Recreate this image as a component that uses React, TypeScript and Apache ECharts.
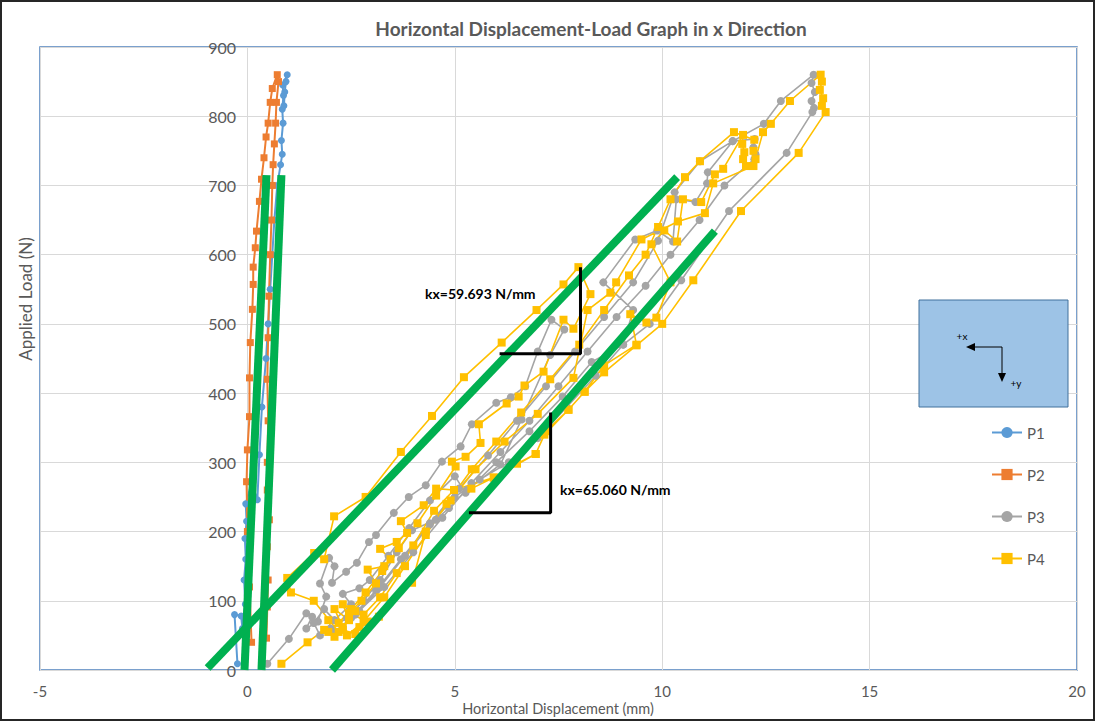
import React, { useEffect, useRef } from "react";
import * as echarts from "echarts";

const xTicks = { min: -5, max: 20, interval: 5 };
const yTicks = { min: 0, max: 900, interval: 100 };

const p1: number[][] = [
  [-0.24, 9], [-0.31, 80], [-0.15, 78], [-0.12, 60], [-0.05, 95], [-0.08, 130], [-0.04, 160],
  [-0.06, 190], [-0.02, 215], [-0.04, 240], [0.1, 270], [0.24, 246], [0.29, 311], [0.35, 380],
  [0.45, 450], [0.5, 500], [0.55, 550], [0.6, 600], [0.65, 650], [0.72, 700], [0.8, 730],
  [0.84, 745], [0.82, 765], [0.86, 790], [0.84, 810], [0.87, 830], [0.85, 845], [0.96, 860],
  [0.93, 850], [0.9, 835], [0.88, 815],
];

const p2: number[][] = [
  [0.1, 40], [0.05, 120], [0.0, 200], [-0.02, 272], [0.0, 318], [0.05, 366], [0.05, 422],
  [0.07, 473], [0.12, 521], [0.14, 557], [0.14, 582], [0.19, 610], [0.22, 634], [0.29, 677],
  [0.34, 709], [0.4, 740], [0.45, 770], [0.5, 790], [0.55, 820], [0.6, 840], [0.72, 860],
  [0.75, 850], [0.7, 820], [0.68, 790], [0.65, 760], [0.62, 730], [0.6, 700], [0.58, 650],
  [0.55, 600], [0.52, 540], [0.5, 480], [0.48, 420], [0.5, 360], [0.48, 300], [0.48, 260],
  [0.53, 217], [0.48, 178], [0.5, 130], [0.48, 91], [0.46, 46],
];

const p3: number[][] = [
  [0.48, 9], [1.0, 45], [1.42, 82], [1.56, 77], [1.42, 60], [1.7, 70], [1.9, 106], [1.75, 125],
  [1.97, 162], [2.1, 150], [2.04, 126], [2.38, 142], [2.64, 155], [2.93, 185], [3.1, 195],
  [3.53, 227], [3.89, 250], [4.3, 267], [4.69, 301], [5.14, 323], [5.41, 355], [6.0, 386],
  [6.35, 394], [6.7, 410], [7.0, 460], [7.33, 506], [7.64, 492],
  [7.3, 455], [6.61, 362], [6.1, 297], [5.29, 260], [4.86, 234], [4.54, 217], [3.97, 202],
  [3.6, 170], [3.2, 130], [2.8, 100], [2.4, 75], [2.0, 60], [1.75, 50],
  [1.6, 68], [1.85, 88], [2.1, 72], [2.5, 95], [2.3, 110], [2.7, 118], [2.95, 130], [3.4, 165],
  [3.9, 205], [4.4, 245], [5.0, 280], [5.26, 256],
  [6.0, 300], [6.8, 345], [7.6, 395], [8.3, 445], [9.06, 470], [9.3, 520], [8.58, 560],
  [9.35, 622], [9.88, 635], [10.26, 619], [10.34, 680], [10.8, 676], [11.08, 703], [11.1, 719],
  [11.7, 764], [12.23, 767], [12.2, 755], [12.25, 745], [12.22, 738],
  [11.5, 700], [10.9, 650], [10.2, 600], [9.6, 555], [8.9, 510], [8.2, 460], [7.5, 410],
  [6.8, 360], [6.1, 315], [5.4, 270], [4.7, 220], [4.0, 170], [3.3, 120], [2.6, 80], [2.1, 55],
  [2.5, 75], [3.1, 115], [3.7, 160], [4.4, 212], [5.1, 262], [5.8, 310], [6.5, 360], [7.2, 410],
  [7.9, 460], [8.6, 510], [9.3, 560], [9.9, 620], [10.3, 690], [10.91, 735], [11.7, 764],
  [12.45, 789], [12.86, 822], [13.65, 860], [13.6, 848], [13.68, 835], [13.6, 822], [13.66, 812],
  [13.62, 806],
  [13.0, 747], [11.61, 663], [10.46, 563], [9.7, 500], [9.06, 470], [8.4, 425], [7.7, 380],
  [7.0, 335], [6.3, 300], [5.6, 275], [5.0, 250], [4.4, 210], [3.8, 165], [3.2, 120], [2.7, 85],
];

const p4: number[][] = [
  [0.82, 9], [1.45, 40], [1.85, 58], [2.1, 48], [1.95, 72], [2.3, 62], [2.1, 88], [2.45, 72],
  [2.3, 95], [2.6, 85], [2.2, 55], [1.6, 100],
  [1.05, 112], [0.96, 133], [1.61, 169], [1.85, 160], [2.09, 222], [2.85, 250], [3.7, 315],
  [4.45, 367], [5.22, 423], [6.13, 473], [6.97, 520], [7.62, 557], [7.98, 582],
  [8.27, 543], [7.86, 493], [7.62, 506], [7.14, 431], [6.68, 411], [6.54, 395], [6.25, 385],
  [5.58, 355], [5.62, 328], [5.26, 308], [4.93, 301], [5.02, 294], [4.55, 252], [4.1, 212],
  [3.65, 176], [3.25, 143], [2.85, 112], [2.5, 88], [2.2, 68], [1.95, 55],
  [2.3, 58], [2.6, 52], [2.9, 70], [2.45, 82], [2.75, 100], [3.1, 125], [2.9, 145], [3.3, 150],
  [3.45, 160], [3.2, 175], [3.6, 185], [3.85, 198], [3.7, 215],
  [4.25, 238], [4.55, 262], [4.98, 260], [5.94, 278], [6.95, 312], [7.16, 340], [7.74, 376],
  [8.13, 402], [8.6, 440], [9.38, 470], [9.23, 514], [9.62, 502], [9.86, 509], [10.2, 560],
  [9.74, 615], [10.05, 635], [10.36, 619], [10.5, 680], [10.94, 676], [11.27, 716], [11.47, 724],
  [11.95, 773], [11.93, 760], [11.98, 748], [11.95, 738], [12.02, 728], [12.2, 728],
  [11.23, 703], [11.03, 660], [10.38, 648], [9.5, 622], [8.89, 560], [8.75, 545], [8.2, 520],
  [7.86, 422], [7.0, 370], [6.2, 330], [5.5, 290], [4.9, 245], [4.3, 200], [3.97, 126],
  [3.17, 77], [2.7, 62], [2.4, 50],
  [2.8, 70], [3.3, 105], [3.8, 150], [4.3, 195], [4.8, 240], [5.41, 290], [6.0, 330], [6.6, 372],
  [7.3, 420], [8.0, 470], [8.6, 520], [9.2, 570], [9.6, 600], [9.9, 640], [10.2, 680],
  [10.55, 712], [10.91, 735], [11.73, 777], [12.22, 766], [12.2, 750], [12.25, 738], [12.43, 777],
  [12.62, 789], [13.08, 822], [13.82, 860], [13.85, 850], [13.8, 838], [13.88, 826], [13.85, 815],
  [13.94, 806],
  [13.29, 747], [11.9, 663], [10.75, 563], [10.0, 500], [9.38, 469], [8.6, 430], [8.13, 402],
  [7.74, 376], [7.2, 345], [6.95, 312], [6.5, 298], [5.94, 278], [5.4, 262], [4.98, 260],
  [4.5, 230], [4.0, 180], [3.6, 140], [3.2, 105], [2.8, 80],
];

const fitLines: number[][][] = [
  [[-0.07, 0], [0.46, 715]],
  [[0.34, 0], [0.82, 715]],
  [[-0.96, 3], [10.36, 712]],
  [[2.04, 0], [11.27, 634]],
];

const slopeMarks: number[][][] = [
  [[6.08, 457], [8.03, 457], [8.03, 582]],
  [[5.34, 227], [7.31, 227], [7.31, 372]],
];

const stiffnessLabels = ["kx=59.693 N/mm", "kx=65.060 N/mm"];
const seriesNames = ["P1", "P2", "P3", "P4"];
const colors = ["#5B9BD5", "#ED7D31", "#A5A5A5", "#FFC000"];

const FONT = "Lato, 'Open Sans', sans-serif";

export default function App() {
  const ref = useRef<HTMLDivElement>(null);
  useEffect(() => {
    if (!ref.current) return;
    const chart = echarts.init(ref.current, undefined, { renderer: "svg" });
    const dataSets = [p1, p2, p3, p4];
    const symbols = ["circle", "rect", "circle", "rect"];
    const sizes = [7, 7, 8, 8];
    const series: any[] = dataSets.map((d, i) => ({
      name: seriesNames[i],
      type: "line",
      data: d,
      symbol: symbols[i],
      symbolSize: sizes[i],
      showSymbol: true,
      lineStyle: { color: colors[i], width: i < 2 ? 2 : 1.6 },
      itemStyle: { color: colors[i] },
      z: 2,
    }));
    fitLines.forEach((d, i) => {
      series.push({
        name: "fit" + i,
        type: "line",
        data: d,
        symbol: "none",
        lineStyle: { color: "#00B050", width: 8, cap: "butt" },
        z: 4,
        silent: true,
      });
    });
    slopeMarks.forEach((d, i) => {
      series.push({
        name: "slope" + i,
        type: "line",
        data: d,
        symbol: "none",
        lineStyle: { color: "#000000", width: 3 },
        z: 5,
        silent: true,
      });
    });

    chart.setOption({
      animation: false,
      backgroundColor: "#ffffff",
      grid: {
        left: 40,
        right: 19,
        top: 47,
        bottom: 52,
        show: true,
        borderColor: "#4F81BD",
        borderWidth: 1.5,
        containLabel: false,
      },
      legend: {
        data: seriesNames,
        orient: "vertical",
        left: 986,
        top: 420,
        padding: 5,
        itemWidth: 30,
        itemHeight: 14,
        itemGap: 27,
        textStyle: { color: "#595959", fontSize: 15, fontFamily: FONT },
      },
      xAxis: {
        type: "value",
        min: xTicks.min,
        max: xTicks.max,
        interval: xTicks.interval,
        axisLine: { show: false, onZero: false },
        axisTick: { show: false },
        axisLabel: { color: "#595959", fontSize: 15, fontFamily: FONT, margin: 13 },
        splitLine: { show: true, lineStyle: { color: "#D9D9D9", width: 1 } },
      },
      yAxis: {
        type: "value",
        min: yTicks.min,
        max: yTicks.max,
        interval: yTicks.interval,
        offset: -208,
        axisLine: { show: false, onZero: false },
        axisTick: { show: false },
        axisLabel: { color: "#595959", fontSize: 16, fontFamily: FONT, margin: 12 },
        splitLine: { show: true, lineStyle: { color: "#D9D9D9", width: 1 } },
      },
      graphic: [
        {
          type: "rect",
          shape: { x: 1, y: 1, width: 1093, height: 719 },
          style: { fill: "none", stroke: "#262626", lineWidth: 2 },
          silent: true,
          z: 0,
        },
        {
          type: "text",
          x: 591,
          y: 28,
          style: {
            text: "Horizontal Displacement-Load Graph in x Direction",
            textAlign: "center",
            textVerticalAlign: "middle",
            fill: "#595959",
            font: `bold 19px ${FONT}`,
          },
        },
        {
          type: "text",
          x: 558,
          y: 708,
          style: {
            text: "Horizontal Displacement (mm)",
            textAlign: "center",
            textVerticalAlign: "middle",
            fill: "#595959",
            font: `14.5px ${FONT}`,
          },
        },
        {
          type: "text",
          x: 25,
          y: 299,
          rotation: Math.PI / 2,
          style: {
            text: "Applied Load (N)",
            textAlign: "center",
            textVerticalAlign: "middle",
            fill: "#595959",
            font: `17px ${FONT}`,
          },
        },
        {
          type: "text",
          x: 425,
          y: 293,
          style: {
            text: stiffnessLabels[0],
            textAlign: "left",
            textVerticalAlign: "middle",
            fill: "#000000",
            font: `bold 14px ${FONT}`,
          },
          z: 10,
        },
        {
          type: "text",
          x: 560,
          y: 489,
          style: {
            text: stiffnessLabels[1],
            textAlign: "left",
            textVerticalAlign: "middle",
            fill: "#000000",
            font: `bold 14px ${FONT}`,
          },
          z: 10,
        },
        {
          type: "rect",
          shape: { x: 919, y: 300, width: 149, height: 107 },
          style: { fill: "#9DC3E6", stroke: "#41719C", lineWidth: 1 },
          z: 10,
        },
        {
          type: "polyline",
          shape: { points: [[973, 347], [1002, 347], [1002, 374]] },
          style: { stroke: "#000", lineWidth: 1, fill: "none" },
          z: 11,
        },
        {
          type: "polygon",
          shape: { points: [[966, 347], [975, 343], [975, 351]] },
          style: { fill: "#000" },
          z: 11,
        },
        {
          type: "polygon",
          shape: { points: [[1002, 382], [998, 373], [1006, 373]] },
          style: { fill: "#000" },
          z: 11,
        },
        {
          type: "text",
          x: 962,
          y: 336,
          style: { text: "+x", textAlign: "center", textVerticalAlign: "middle", fill: "#000", font: `10px ${FONT}` },
          z: 11,
        },
        {
          type: "text",
          x: 1016,
          y: 383,
          style: { text: "+y", textAlign: "center", textVerticalAlign: "middle", fill: "#000", font: `10px ${FONT}` },
          z: 11,
        },
      ],
      series,
    });
    return () => chart.dispose();
  }, []);
  return (
    <div
      ref={ref}
      style={{ position: "absolute", left: 0, top: 0, width: 1096, height: 722, background: "#fff" }}
    />
  );
}
